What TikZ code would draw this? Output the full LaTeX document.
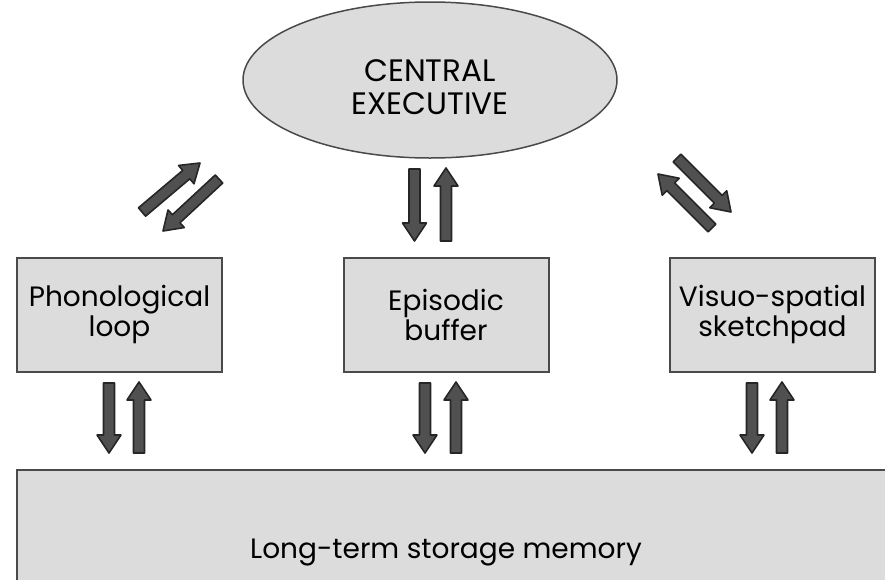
\documentclass[tikz,border=0pt]{standalone}
\usepackage{fontspec}
\setmainfont{Poppins}
\usetikzlibrary{calc,shapes.geometric}
\definecolor{boxfill}{HTML}{DCDCDC}
\definecolor{boxline}{HTML}{4A4A4A}
\definecolor{arrfill}{HTML}{505050}
\tikzset{
  boxnode/.style={draw=boxline, line width=2pt, fill=boxfill, inner sep=0pt},
  lbl/.style={font=\fontsize{28}{30}\selectfont, align=center, text=black},
  arr/.style={draw=black!85, fill=arrfill, line width=1.6pt, line join=round},
}
\newcommand\barrow[2]{%
  \coordinate (hb) at ($(#2)!18pt!(#1)$);
  \draw[arr] ($(#1)!5.5pt!90:(#2)$) -- ($(hb)!5.5pt!-90:(#1)$) -- ($(hb)!12pt!-90:(#1)$) -- (#2)
    -- ($(hb)!12pt!90:(#1)$) -- ($(hb)!5.5pt!90:(#1)$) -- ($(#1)!5.5pt!-90:(#2)$) -- cycle;}
\begin{document}
\begin{tikzpicture}[x=1pt,y=-1pt]
\useasboundingbox (0,0) rectangle (885,579);
\fill[white] (0,0) rectangle (885,579);
\clip (0,0) rectangle (885,579);
% central executive
\node[boxnode, ellipse, line width=1.5pt, minimum width=374pt, minimum height=156pt] (ce) at (430,80) {};
\node[lbl, font=\fontsize{31}{33}\selectfont] (cet) at (430,87) {CENTRAL\\EXECUTIVE};
% slave systems
\node[boxnode, minimum width=205pt, minimum height=114pt] (pl) at (119.5,314.5) {};
\node[lbl] (plt) at (pl.center) {Phonological\\loop};
\node[boxnode, minimum width=205pt, minimum height=114pt] (eb) at (446,314.5) {};
\node[lbl] (ebt) at (eb.center) {Episodic\\buffer};
\node[boxnode, minimum width=205pt, minimum height=114pt] (vs) at (772.5,314.5) {};
\node[lbl] (vst) at (vs.center) {Visuo-spatial\\sketchpad};
% long-term memory
\draw[boxline, line width=2pt, fill=boxfill] (17,470) rectangle (900,640);
\node[lbl] (lt) at (446,553) {Long-term storage memory};
% arrow end points
\coordinate (a1t) at (142,212); \coordinate (a1h) at (200,163);
\coordinate (a2t) at (219,179); \coordinate (a2h) at (163,231);
\coordinate (a3t) at (414.5,169); \coordinate (a3h) at (414.5,241);
\coordinate (a4t) at (446,241); \coordinate (a4h) at (446,168);
\coordinate (a5t) at (677,158); \coordinate (a5h) at (731,212);
\coordinate (a6t) at (712,228); \coordinate (a6h) at (658,174);
\coordinate (b1t) at (109,383); \coordinate (b1h) at (109,453);
\coordinate (b2t) at (139,453); \coordinate (b2h) at (139,382);
\coordinate (b3t) at (425,383); \coordinate (b3h) at (425,453);
\coordinate (b4t) at (456,453); \coordinate (b4h) at (456,382);
\coordinate (b5t) at (752,383); \coordinate (b5h) at (752,453);
\coordinate (b6t) at (782,453); \coordinate (b6h) at (782,382);
\barrow{a1t}{a1h}\barrow{a2t}{a2h}\barrow{a3t}{a3h}\barrow{a4t}{a4h}
\barrow{a5t}{a5h}\barrow{a6t}{a6h}
\barrow{b1t}{b1h}\barrow{b2t}{b2h}\barrow{b3t}{b3h}\barrow{b4t}{b4h}
\barrow{b5t}{b5h}\barrow{b6t}{b6h}
\end{tikzpicture}
\end{document}
